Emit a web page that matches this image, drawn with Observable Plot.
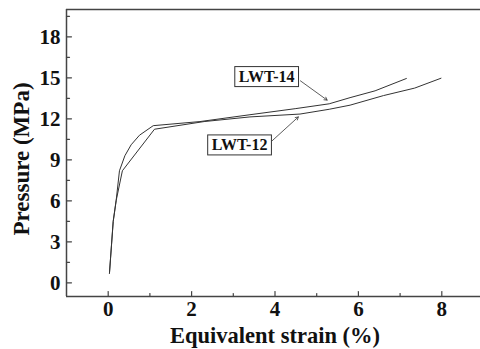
<!DOCTYPE html>
<html><head><meta charset="utf-8">
<script src="https://cdn.jsdelivr.net/npm/d3@7"></script>
<script src="https://cdn.jsdelivr.net/npm/@observablehq/plot@0.6"></script>
<style>
body{margin:0;background:#fff}
#chart svg{font-family:"Liberation Serif","Times New Roman",serif;font-weight:bold;overflow:hidden}
</style>
</head><body><div id="chart"></div>
<script>
// LWT-14 curve
const strain14   = [0.03, 0.12, 0.19, 0.27, 0.40, 0.55, 0.75, 1.08, 2.2, 3.4, 4.5, 5.3, 5.8, 6.4, 7.15];
const pressure14 = [0.7, 4.5, 6.0, 8.2, 9.3, 10.1, 10.8, 11.5, 11.8, 12.3, 12.75, 13.1, 13.55, 14.05, 14.95];
// LWT-12 curve
const strain12   = [0.03, 0.12, 0.19, 0.34, 1.11, 2.3, 3.4, 4.6, 5.3, 5.8, 6.6, 7.35, 7.98];
const pressure12 = [0.7, 4.5, 6.0, 8.2, 11.24, 11.8, 12.14, 12.35, 12.7, 13.0, 13.7, 14.25, 14.97];

const xTicks = [0, 2, 4, 6, 8];
const xMinor = [1, 3, 5, 7];
const yTicks = [0, 3, 6, 9, 12, 15, 18];
const yMinor = [1.5, 4.5, 7.5, 10.5, 13.5, 16.5, 19.5];

const labels = [
  {name: "LWT-14", x: 3.80, y: 15.1, fromX: 4.61, fromY: 14.78, toX: 5.25, toY: 13.37},
  {name: "LWT-12", x: 3.15, y: 10.1, fromX: 3.93, fromY: 10.39, toX: 4.56, toY: 12.14}
];

const s14 = strain14.map((x, i) => ({x, y: pressure14[i]}));
const s12 = strain12.map((x, i) => ({x, y: pressure12[i]}));

const axisColor = "#444";
const tickShape = {draw(ctx, l) { ctx.moveTo(0, 0); ctx.lineTo(0, -l); }};

const plot = Plot.plot({
  width: 480,
  height: 349,
  marginLeft: 66,
  marginRight: -3,
  marginTop: 9,
  marginBottom: 53,
  style: {fontFamily: "'Liberation Serif','Times New Roman',serif", fontWeight: "bold", background: "#fff", color: "#111"},
  x: {domain: [-1, 9]},
  y: {domain: [-1, 20]},
  marks: [
    Plot.axisX({ticks: xTicks, tickSize: 0, tickPadding: 5, fontSize: 21, fontWeight: "bold", label: null, tickFormat: d => d}),
    Plot.axisY({ticks: yTicks, tickSize: 0, tickPadding: 6, fontSize: 21, fontWeight: "bold", label: null, tickFormat: d => d}),
    Plot.vector(xTicks, {x: d => d, y: -1, length: 5, rotate: 0, anchor: "start", shape: tickShape, stroke: axisColor, strokeWidth: 1.2}),
    Plot.vector(xMinor, {x: d => d, y: -1, length: 3, rotate: 0, anchor: "start", shape: tickShape, stroke: axisColor, strokeWidth: 1.2}),
    Plot.vector(yTicks, {x: -1, y: d => d, length: 5, rotate: 90, anchor: "start", shape: tickShape, stroke: axisColor, strokeWidth: 1.2}),
    Plot.vector(yMinor, {x: -1, y: d => d, length: 3, rotate: 90, anchor: "start", shape: tickShape, stroke: axisColor, strokeWidth: 1.2}),
    Plot.ruleX([-1], {stroke: axisColor, strokeWidth: 1.5}),
    Plot.ruleY([-1, 20], {stroke: axisColor, strokeWidth: 1.5}),
    Plot.line(s14, {x: "x", y: "y", stroke: "#333", strokeWidth: 1}),
    Plot.line(s12, {x: "x", y: "y", stroke: "#333", strokeWidth: 1}),
    Plot.arrow(labels, {x1: "fromX", y1: "fromY", x2: "toX", y2: "toY", stroke: "#333", strokeWidth: 0.8, headLength: 6}),
    Plot.text(labels, {x: "x", y: "y", text: "name", fontSize: 16, fontWeight: "bold", fill: "#111", className: "lbl"}),
    Plot.text(["Equivalent strain (%)"], {frameAnchor: "bottom", lineAnchor: "middle", textAnchor: "middle", dy: 39, text: d => d, fontSize: 22.5, fontWeight: "bold", fill: "#111"}),
    Plot.text(["Pressure (MPa)"], {frameAnchor: "left", lineAnchor: "middle", textAnchor: "middle", dx: -45, dy: 6, rotate: -90, text: d => d, fontSize: 23, fontWeight: "bold", fill: "#111"})
  ]
});
document.getElementById("chart").appendChild(plot);

// draw frames around the annotation labels
plot.querySelectorAll("g.lbl text").forEach(t => {
  const b = t.getBBox();
  const rect = document.createElementNS("http://www.w3.org/2000/svg", "rect");
  rect.setAttribute("x", b.x - 4);
  rect.setAttribute("y", b.y - 1);
  rect.setAttribute("width", b.width + 8);
  rect.setAttribute("height", b.height + 3);
  rect.setAttribute("fill", "#fff");
  rect.setAttribute("stroke", "#333");
  rect.setAttribute("stroke-width", "1");
  const tr = t.getAttribute("transform");
  if (tr) rect.setAttribute("transform", tr);
  t.parentNode.insertBefore(rect, t);
});
</script>
</body></html>
